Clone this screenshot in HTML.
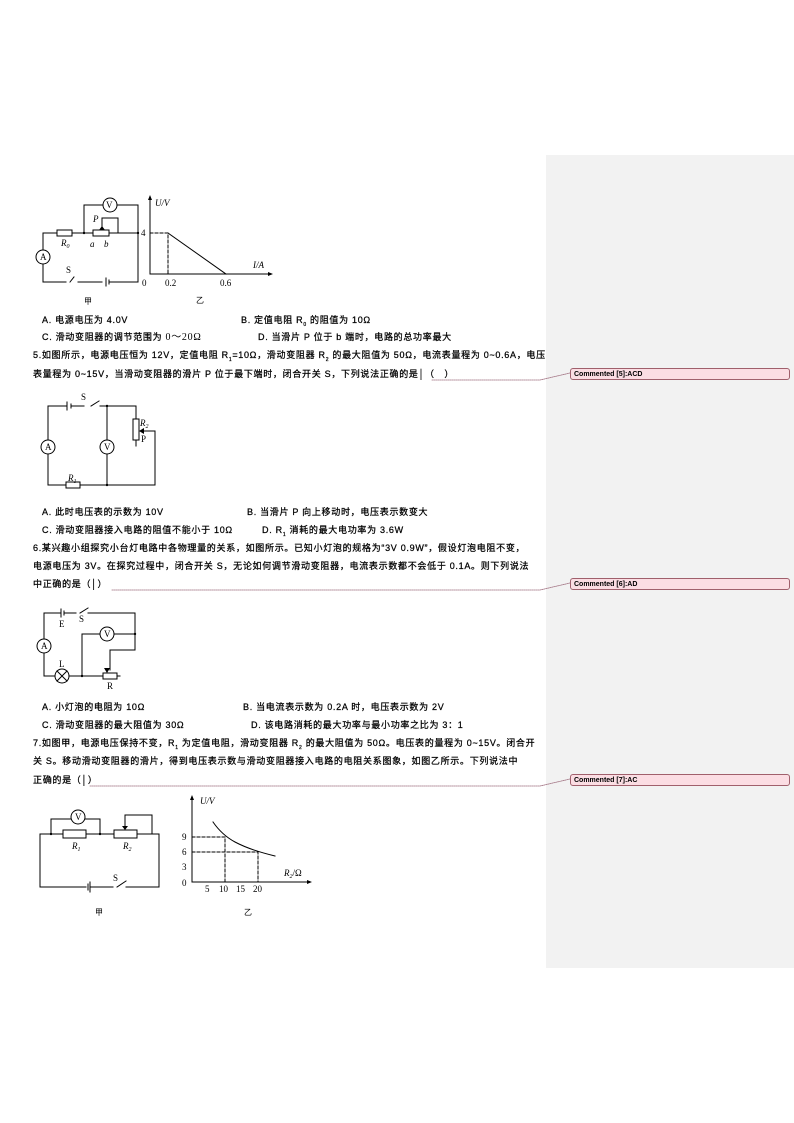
<!DOCTYPE html>
<html><head><meta charset="utf-8"><style>
body{margin:0;width:794px;height:1123px;position:relative;background:#fff;font-family:"Liberation Sans","Noto Sans CJK SC",sans-serif;overflow:hidden}
.t{position:absolute;font-size:9px;letter-spacing:0.7px;white-space:nowrap;color:#000;line-height:10px;-webkit-text-stroke:0.25px #000}
.side{position:absolute;left:546px;top:155px;width:248px;height:813px;background:#f2f2f2}
.c{position:absolute;left:570px;width:220px;height:12px;background:#fbdde3;border:1px solid #a0606c;border-radius:3px;font-size:7px;font-weight:bold;line-height:11px;padding-left:3px;box-sizing:border-box}
svg{position:absolute;left:0;top:0}
</style></head><body>
<div class="side"></div>
<div class="c" style="top:368px">Commented [5]:ACD</div>
<div class="c" style="top:578px">Commented [6]:AD</div>
<div class="c" style="top:774px">Commented [7]:AC</div>

<svg width="794" height="1123" font-family="Liberation Serif,serif" font-size="9" stroke-linecap="square">
<g stroke="#a07080" stroke-dasharray="1,1" fill="none" stroke-width="0.8">
<path d="M432 380 H540 L570 373"/><path d="M112 590 H540 L570 583"/><path d="M90 786 H540 L570 779"/>
</g>
<g stroke="#000" stroke-width="1" fill="none">
<path d="M43 233 V250 M43 264 V282 H66 M74 277 L70 282 M78 282 H102 M106 278 V286 M109 280 V284 M109 282 H138 V233 H118 V218 H102 V230"/>
<path d="M43 233 H57 M72 233 H93 M109 233 H118 M84 233 V205 H103 M117 205 H138 V233"/>
<rect x="57" y="230" width="15" height="6"/><rect x="93" y="230" width="16" height="6"/>
<circle cx="110" cy="205" r="7"/><circle cx="43" cy="257" r="7"/>
<path d="M150 200 V274 H268"/>
<path d="M150 233 H168 V274" stroke-dasharray="3,2"/>
<path d="M168 233 L226 274"/>
<path d="M48 406 H67 M71 406 H84 M91 406 L99 401 M100 406 H136 V419 M136 440 V446 M48 406 V440 M48 454 V485 H66 M80 485 H155 V431 H141 M107 406 V440 M107 454 V485 M67 402 V410 M71 404 V408"/>
<rect x="133" y="419" width="6" height="21"/><rect x="66" y="482" width="14" height="6"/>
<circle cx="48" cy="447" r="7"/><circle cx="107" cy="447" r="7"/>
<path d="M44 613 H61 M64 613 H76 M80 613 L88 608 M88 613 H135 V650 H110 V670 M61 609 V617 M64 611 V615 M44 613 V639 M44 653 V676 H55 M69 676 H103 M117 676 H120 M82 676 V634 H100 M114 634 H135"/>
<circle cx="44" cy="646" r="7"/><circle cx="107" cy="634" r="7"/><circle cx="62" cy="676" r="7"/>
<path d="M57 671 L67 681 M67 671 L57 681"/>
<rect x="103" y="673" width="14" height="6"/>
<path d="M40 834 V887 H86 M90 882 V892 M88 884 V890 M90 887 H113 M117 887 L126 881 M126 887 H159 V834 H152 V815 H125 V826 M40 834 H63 M86 834 H114 M137 834 H152 M51 834 V819 H71 M85 819 H100 V834"/>
<rect x="63" y="830" width="23" height="8"/><rect x="114" y="830" width="23" height="8"/>
<circle cx="78" cy="817" r="7"/>
<path d="M192 800 V882 H307"/>
<path d="M192 837 H225 V882 M192 852 H258 V882" stroke-dasharray="3,2"/>
<path d="M213 822 Q222 835 235 842 Q250 850 275 856"/>
</g>
<g fill="#000">
<path d="M99 230 l3 -4 l3 4z"/>
<path d="M148 200 l2 -5 l2 5z M268 272 l5 2 l-5 2z"/>
<path d="M139 431 l5 -3 v6z"/>
<path d="M107 673 l3 -5 h-6z"/>
<path d="M122 826 l3 4 l3 -4z"/>
<path d="M190 800 l2 -5 l2 5z M307 880 l5 2 l-5 2z"/>
<circle cx="84" cy="233" r="1.2"/><circle cx="138" cy="233" r="1.2"/><circle cx="107" cy="406" r="1.2"/><circle cx="107" cy="485" r="1.2"/><circle cx="82" cy="676" r="1.2"/><circle cx="135" cy="634" r="1.2"/><circle cx="51" cy="834" r="1.2"/><circle cx="100" cy="834" r="1.2"/>
</g>
<g fill="#000">
<text x="106" y="208">V</text><text x="40" y="260">A</text>
<text x="61" y="246" font-style="italic">R<tspan font-size="6" dy="2">0</tspan></text>
<text x="90" y="247" font-style="italic">a</text><text x="104" y="247" font-style="italic">b</text>
<text x="93" y="222" font-style="italic">P</text><text x="66" y="273">S</text>
<text x="84" y="304" font-family="Noto Sans CJK SC" font-size="8">甲</text>
<text x="155" y="206" font-style="italic">U/V</text><text x="141" y="236">4</text><text x="142" y="286">0</text>
<text x="165" y="286">0.2</text><text x="220" y="286">0.6</text><text x="253" y="268" font-style="italic">I/A</text>
<text x="196" y="303" font-family="Noto Sans CJK SC" font-size="8">乙</text>
<text x="81" y="400">S</text><text x="140" y="426" font-style="italic">R<tspan font-size="6" dy="2">2</tspan></text><text x="141" y="442">P</text>
<text x="45" y="450">A</text><text x="104" y="450">V</text>
<text x="68" y="481" font-style="italic">R<tspan font-size="6" dy="2">1</tspan></text>
<text x="41" y="649">A</text><text x="104" y="637">V</text>
<text x="59" y="627">E</text><text x="79" y="622">S</text><text x="59" y="667">L</text><text x="107" y="689">R</text>
<text x="75" y="820">V</text>
<text x="72" y="849" font-style="italic">R<tspan font-size="6" dy="2">1</tspan></text>
<text x="123" y="849" font-style="italic">R<tspan font-size="6" dy="2">2</tspan></text>
<text x="113" y="881">S</text>
<text x="95" y="915" font-family="Noto Sans CJK SC" font-size="8">甲</text>
<text x="200" y="804" font-style="italic">U/V</text>
<text x="182" y="840">9</text><text x="182" y="855">6</text><text x="182" y="870">3</text><text x="182" y="886">0</text>
<text x="205" y="892">5</text><text x="219" y="892">10</text><text x="236" y="892">15</text><text x="253" y="892">20</text>
<text x="284" y="876" font-style="italic">R<tspan font-size="6" dy="2">2</tspan><tspan dy="-2" font-style="normal">/Ω</tspan></text>
<text x="244" y="915" font-family="Noto Sans CJK SC" font-size="8">乙</text>
</g>
</svg>

<div class="t" style="left:42px;top:315px">A. 电源电压为 4.0V</div>
<div class="t" style="left:241px;top:315px">B. 定值电阻 R<sub style="font-size:5px">0</sub> 的阻值为 10Ω</div>
<div class="t" style="left:42px;top:332px">C. 滑动变阻器的调节范围为 <span style="font-family:'Liberation Serif';font-size:10px;-webkit-text-stroke:0">0～20Ω</span></div>
<div class="t" style="left:258px;top:332px">D. 当滑片 P 位于 b 端时，电路的总功率最大</div>
<div class="t" style="left:33px;top:350px">5.如图所示，电源电压恒为 12V，定值电阻 R<sub style="font-size:5px">1</sub>=10Ω，滑动变阻器 R<sub style="font-size:5px">2</sub> 的最大阻值为 50Ω，电流表量程为 0~0.6A，电压</div>
<div class="t" style="left:33px;top:369px">表量程为 0~15V，当滑动变阻器的滑片 P 位于最下端时，闭合开关 S，下列说法正确的是│（　）</div>
<div class="t" style="left:42px;top:507px">A. 此时电压表的示数为 10V</div>
<div class="t" style="left:247px;top:507px">B. 当滑片 P 向上移动时，电压表示数变大</div>
<div class="t" style="left:42px;top:525px">C. 滑动变阻器接入电路的阻值不能小于 10Ω</div>
<div class="t" style="left:262px;top:525px">D. R<sub style="font-size:5px">1</sub> 消耗的最大电功率为 3.6W</div>
<div class="t" style="left:33px;top:543px">6.某兴趣小组探究小台灯电路中各物理量的关系，如图所示。已知小灯泡的规格为“3V 0.9W”，假设灯泡电阻不变，</div>
<div class="t" style="left:33px;top:561px">电源电压为 3V。在探究过程中，闭合开关 S，无论如何调节滑动变阻器，电流表示数都不会低于 0.1A。则下列说法</div>
<div class="t" style="left:33px;top:579px">中正确的是（│）</div>
<div class="t" style="left:42px;top:702px">A. 小灯泡的电阻为 10Ω</div>
<div class="t" style="left:243px;top:702px">B. 当电流表示数为 0.2A 时，电压表示数为 2V</div>
<div class="t" style="left:42px;top:720px">C. 滑动变阻器的最大阻值为 30Ω</div>
<div class="t" style="left:251px;top:720px">D. 该电路消耗的最大功率与最小功率之比为 3：1</div>
<div class="t" style="left:33px;top:738px">7.如图甲，电源电压保持不变，R<sub style="font-size:5px">1</sub> 为定值电阻，滑动变阻器 R<sub style="font-size:5px">2</sub> 的最大阻值为 50Ω。电压表的量程为 0~15V。闭合开</div>
<div class="t" style="left:33px;top:756px">关 S。移动滑动变阻器的滑片，得到电压表示数与滑动变阻器接入电路的电阻关系图象，如图乙所示。下列说法中</div>
<div class="t" style="left:33px;top:775px">正确的是（│）</div>
</body></html>
